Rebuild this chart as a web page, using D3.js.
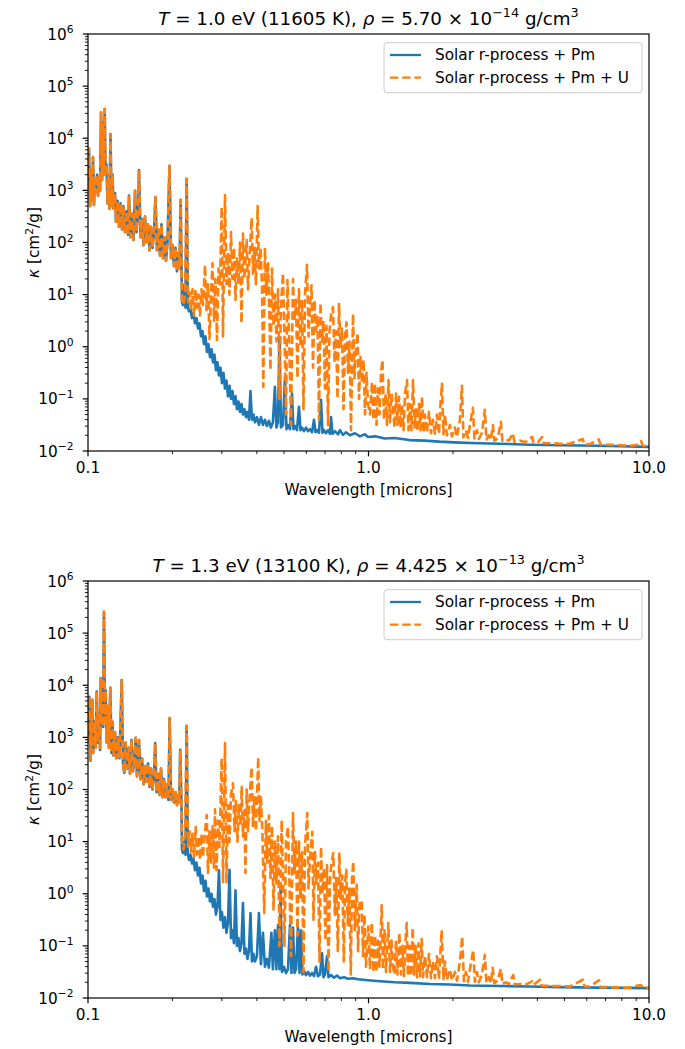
<!DOCTYPE html>
<html><head><meta charset="utf-8">
<script src="https://cdn.jsdelivr.net/npm/d3@7"></script>
<style>body{margin:0;background:#fff}text{font-family:"DejaVu Sans",sans-serif;fill:#000}</style>
</head><body><svg id="c" width="685" height="1049"></svg>
<script>
// ---------------- data ----------------
const seriesNames = ["Solar r-process + Pm", "Solar r-process + Pm + U"];
const seriesColors = ["#1f77b4", "#ff7f0e"];
const xTickValues = [0.1, 1, 10];
const xTickLabels = ["0.1", "1.0", "10.0"];
const yTickExponents = [-2, -1, 0, 1, 2, 3, 4, 5, 6];
const xLabel = "Wavelength [microns]";
const title1 = [["T","i"],[" = 1.0 eV (11605 K), ",""],["ρ","i"],[" = 5.70 × 10",""],["−14","s"],[" g/cm",""],["3","s"]];
const title2 = [["T","i"],[" = 1.3 eV (13100 K), ",""],["ρ","i"],[" = 4.425 × 10",""],["−13","s"],[" g/cm",""],["3","s"]];

// Panel 1 (T = 1.0 eV): wavelength [micron], kappa [cm^2/g]
const p1Shared = [[0.1000,1000],[0.1008,6310],[0.1017,501],[0.1025,2510],[0.1033,631],[0.1042,4370],[0.1050,525],[0.1059,1580],[0.1068,891],[0.1077,2000],[0.1086,794],[0.1095,1780],[0.1104,1000],[0.1113,31600],[0.1122,1580],[0.1131,20000],[0.1140,2000],[0.1147,36300],[0.1154,2510],[0.1164,3160],[0.1174,562],[0.1183,2000],[0.1193,447],[0.1203,12000],[0.1213,501],[0.1223,2000],[0.1233,447],[0.1248,891],[0.1258,251],[0.1274,631],[0.1290,200],[0.1306,562],[0.1322,178],[0.1338,501],[0.1355,158],[0.1372,398],[0.1389,141],[0.1400,794],[0.1417,126],[0.1435,355],[0.1453,112],[0.1471,977],[0.1489,158],[0.1508,398],[0.1520,2450],[0.1539,126],[0.1558,282],[0.1577,89],[0.1597,316],[0.1616,100],[0.1636,224],[0.1657,71],[0.1677,200],[0.1698,79],[0.1719,158],[0.1740,741],[0.1762,71],[0.1784,178],[0.1806,56],[0.1828,224],[0.1851,50],[0.1874,126],[0.1897,45],[0.1920,100],[0.1952,2950],[0.1977,50],[0.2001,89],[0.2026,35],[0.2051,79],[0.2076,28],[0.2102,63],[0.2119,32],[0.2140,661],[0.2154,32]];
const p1PmTail = [[0.2163,7.08],[0.2181,6.31],[0.2208,15.8],[0.2226,5.62],[0.2248,1660],[0.2269,5.62],[0.2291,4.79],[0.2319,5.25],[0.2348,3.55],[0.2377,4.47],[0.2406,2.82],[0.2436,3.55],[0.2467,2.24],[0.2497,2.82],[0.2528,1.58],[0.2559,2.0],[0.2591,1.12],[0.2623,1.58],[0.2655,0.794],[0.2688,1.12],[0.2722,0.631],[0.2755,0.891],[0.2790,0.501],[0.2824,0.708],[0.2859,0.355],[0.2894,0.501],[0.2930,0.282],[0.2966,0.398],[0.3003,0.200],[0.3040,0.316],[0.3078,0.158],[0.3116,0.224],[0.3156,0.112],[0.3195,0.178],[0.3234,0.100],[0.3274,0.141],[0.3315,0.0794],[0.3356,0.112],[0.3397,0.0631],[0.3439,0.0891],[0.3482,0.0562],[0.3525,0.0794],[0.3568,0.0501],[0.3612,0.0631],[0.3657,0.0447],[0.3702,0.0562],[0.3748,0.0398],[0.3795,0.141],[0.3841,0.0398],[0.3889,0.0501],[0.3937,0.0355],[0.4002,0.0447],[0.4068,0.0316],[0.4135,0.0447],[0.4204,0.0316],[0.4273,0.0398],[0.4344,0.0302],[0.4416,0.0380],[0.4488,0.0282],[0.4562,0.0355],[0.4638,0.170],[0.4695,0.0282],[0.4757,0.0355],[0.4816,1.55],[0.4875,0.0282],[0.4956,0.0316],[0.5038,0.263],[0.5100,0.0263],[0.5164,0.0316],[0.5250,0.0263],[0.5336,0.126],[0.5402,0.0263],[0.5469,0.0302],[0.5560,0.0251],[0.5651,0.0708],[0.5722,0.0251],[0.5793,0.0282],[0.5889,0.0240],[0.5986,0.0282],[0.6086,0.0240],[0.6187,0.0263],[0.6289,0.0229],[0.6393,0.0398],[0.6472,0.0229],[0.6552,0.0251],[0.6661,0.0224],[0.6771,0.0955],[0.6854,0.0224],[0.6939,0.0251],[0.7054,0.0219],[0.7172,0.0251],[0.7290,0.0214],[0.7351,0.0447],[0.7442,0.0214],[0.7596,0.0240],[0.7785,0.0209],[0.7914,0.0251],[0.8111,0.0204],[0.8314,0.0229],[0.8591,0.0200],[0.8948,0.0219],[0.9326,0.0191],[0.9714,0.0209],[0.9959,0.0186],[1.055,0.0191],[1.143,0.0174],[1.239,0.0178],[1.399,0.0162],[1.586,0.0158],[1.792,0.0151],[2.112,0.0145],[2.490,0.0141],[2.937,0.0138],[3.768,0.0132],[4.814,0.0129],[6.66,0.0126],[10.0,0.0120]];
const p1PmUTail = [[0.2163,7.94],[0.2190,6.31],[0.2217,10],[0.2248,1660],[0.2273,7.08],[0.2301,11.2],[0.2329,5.01],[0.2358,12.6],[0.2387,3.98],[0.2416,12.6],[0.2446,5.62],[0.2477,10],[0.2508,3.98],[0.2539,12.6],[0.2570,6.31],[0.2613,37.2],[0.2645,5.01],[0.2678,15.8],[0.2711,1.41],[0.2744,10],[0.2779,39.8],[0.2813,3.16],[0.2848,20],[0.2883,1.35],[0.2919,31.6],[0.2955,15.8],[0.2996,479],[0.3029,1.58],[0.3054,39.8],[0.3079,813],[0.3117,15.8],[0.3156,63],[0.3195,10],[0.3234,158],[0.3274,20],[0.3315,79],[0.3356,7.94],[0.3397,50],[0.3439,15.8],[0.3482,100],[0.3525,2.82],[0.3568,148],[0.3612,20],[0.3678,112],[0.3719,12.6],[0.3765,50],[0.3832,295],[0.3873,25.1],[0.3921,79],[0.3969,15.8],[0.4025,501],[0.4070,31.6],[0.4121,79],[0.4171,15.8],[0.4216,0.170],[0.4273,79],[0.4326,10],[0.4383,39.8],[0.4437,3.16],[0.4473,0.355],[0.4529,31.6],[0.4585,2.51],[0.4642,10],[0.4699,1.26],[0.4757,12.6],[0.4816,0.1],[0.4875,6.31],[0.4956,25.7],[0.5017,1.58],[0.5080,0.0501],[0.5142,19.1],[0.5206,2.0],[0.5293,0.0316],[0.5380,20],[0.5447,3.16],[0.5514,7.94],[0.5582,0.251],[0.5651,12.6],[0.5722,1.0],[0.5793,7.94],[0.5864,0.0631],[0.5937,10],[0.6036,37.2],[0.6111,1.58],[0.6187,6.31],[0.6263,15.1],[0.6341,0.398],[0.6419,7.94],[0.6499,2.0],[0.6579,3.98],[0.6661,0.0398],[0.6743,6.92],[0.6826,1.26],[0.6911,3.16],[0.6996,0.158],[0.7083,2.51],[0.7172,0.0316],[0.7260,2.0],[0.7351,3.98],[0.7472,5.75],[0.7565,0.501],[0.7658,2.0],[0.7753,0.1],[0.7850,6.61],[0.7947,1.0],[0.8045,2.24],[0.8145,0.0631],[0.8246,1.58],[0.8348,2.95],[0.8452,0.316],[0.8556,1.26],[0.8662,0.0251],[0.8806,4.27],[0.8915,0.251],[0.9026,1.0],[0.9138,1.82],[0.9251,0.1],[0.9365,0.631],[0.9481,0.2],[0.9599,0.562],[0.9718,0.0501],[0.9838,0.316],[0.9959,0.0794],[1.0124,0.0501],[1.0292,0.209],[1.0419,0.0398],[1.0548,0.2],[1.0679,0.0316],[1.0811,0.158],[1.0945,0.0501],[1.1081,0.316],[1.1218,0.562],[1.1357,0.0398],[1.1498,0.126],[1.1640,0.0316],[1.1785,0.229],[1.1931,0.0355],[1.2079,0.126],[1.2228,0.0631],[1.2380,0.0282],[1.2533,0.126],[1.2689,0.0316],[1.2846,0.110],[1.3005,0.0282],[1.3166,0.0794],[1.3329,0.0251],[1.3494,0.126],[1.3717,0.229],[1.3887,0.0251],[1.4059,0.0794],[1.4233,0.0251],[1.4409,0.229],[1.4588,0.0282],[1.4768,0.0631],[1.4951,0.0240],[1.5137,0.0794],[1.5324,0.0251],[1.5514,0.110],[1.5706,0.0224],[1.5901,0.0501],[1.6163,0.0224],[1.6430,0.0562],[1.6701,0.0219],[1.6977,0.0398],[1.7257,0.0214],[1.7542,0.0501],[1.7832,0.0209],[1.8053,0.0794],[1.8276,0.195],[1.8503,0.0209],[1.8732,0.0501],[1.9041,0.0200],[1.9515,0.0316],[1.9837,0.0191],[2.0331,0.0282],[2.0667,0.0186],[2.1181,0.0398],[2.1531,0.178],[2.1798,0.0182],[2.2250,0.0251],[2.2617,0.0178],[2.2991,0.0316],[2.3563,0.0676],[2.3855,0.0174],[2.4350,0.0251],[2.4752,0.0170],[2.5369,0.0224],[2.6000,0.0617],[2.6322,0.0166],[2.6868,0.0200],[2.7312,0.0162],[2.7763,0.0316],[2.8107,0.0158],[2.8923,0.0178],[2.9643,0.0363],[3.0010,0.0158],[3.0882,0.0166],[3.1651,0.0158],[3.2710,0.0219],[3.3115,0.0151],[3.4767,0.0158],[3.6197,0.0148],[3.8295,0.0186],[3.8770,0.0145],[4.0215,0.0148],[4.1557,0.0186],[4.2072,0.0141],[4.4550,0.0141],[4.8253,0.0138],[5.2234,0.0138],[5.8030,0.0170],[5.8750,0.0135],[6.1441,0.0135],[6.63,0.0166],[6.72,0.0132],[7.26,0.0132],[7.88,0.0129],[8.56,0.0126],[9.13,0.0132],[9.36,0.0155],[9.52,0.0126],[10.0,0.0123]];

// Panel 2 (T = 1.3 eV)
const p2Shared = [[0.1000,794],[0.1011,6030],[0.1021,355],[0.1029,1580],[0.1036,5250],[0.1044,501],[0.1055,2000],[0.1064,631],[0.1074,7590],[0.1086,794],[0.1095,2510],[0.1104,575],[0.1110,13800],[0.1117,2000],[0.1124,7940],[0.1132,1580],[0.1140,257000],[0.1150,2000],[0.1156,8130],[0.1166,794],[0.1178,3980],[0.1188,631],[0.1201,8910],[0.1213,501],[0.1223,2000],[0.1233,447],[0.1248,1260],[0.1264,398],[0.1279,1000],[0.1295,398],[0.1319,12600],[0.1333,316],[0.1347,209],[0.1360,794],[0.1377,251],[0.1394,631],[0.1412,200],[0.1429,891],[0.1447,224],[0.1465,398],[0.1480,977],[0.1495,178],[0.1510,316],[0.1520,891],[0.1539,158],[0.1558,398],[0.1577,126],[0.1597,282],[0.1616,141],[0.1636,316],[0.1657,112],[0.1677,251],[0.1698,100],[0.1719,200],[0.1736,776],[0.1755,89],[0.1776,200],[0.1799,79],[0.1821,251],[0.1843,71],[0.1866,158],[0.1889,71],[0.1913,126],[0.1936,63],[0.1955,2340],[0.1977,63],[0.2001,100],[0.2026,56],[0.2051,89],[0.2076,50],[0.2102,79],[0.2116,56],[0.2132,575],[0.2154,50]];
const p2PmTail = [[0.2163,7.08],[0.2181,6.03],[0.2208,10],[0.2226,5.62],[0.2248,1660],[0.2269,6.03],[0.2291,4.47],[0.2319,5.62],[0.2348,3.80],[0.2377,4.79],[0.2406,2.82],[0.2436,3.98],[0.2467,2.24],[0.2497,3.16],[0.2528,1.58],[0.2559,2.24],[0.2591,1.12],[0.2623,1.78],[0.2655,0.891],[0.2688,1.26],[0.2722,0.708],[0.2755,1.0],[0.2790,0.562],[0.2824,0.794],[0.2859,0.398],[0.2894,0.562],[0.2930,2.82],[0.2966,0.316],[0.3003,0.447],[0.3040,0.224],[0.3078,0.355],[0.3116,0.178],[0.3156,0.282],[0.3195,2.88],[0.3234,0.141],[0.3274,0.2],[0.3315,0.112],[0.3356,1.17],[0.3397,0.1],[0.3439,0.141],[0.3482,0.0794],[0.3525,0.112],[0.3568,0.661],[0.3612,0.0708],[0.3657,0.0891],[0.3702,0.0562],[0.3748,0.0794],[0.3795,0.427],[0.3841,0.0501],[0.3889,0.0708],[0.3937,0.0501],[0.4002,0.0631],[0.4068,0.427],[0.4135,0.0447],[0.4204,0.178],[0.4273,0.0398],[0.4344,0.0562],[0.4416,0.0380],[0.4507,0.178],[0.4562,0.0355],[0.4638,0.2],[0.4695,0.0355],[0.4757,0.251],[0.4816,0.0355],[0.4855,1.35],[0.4916,0.0316],[0.4997,0.0398],[0.5080,0.0302],[0.5164,0.0355],[0.5250,0.251],[0.5314,0.0302],[0.5380,0.224],[0.5447,0.0302],[0.5514,0.0355],[0.5605,0.224],[0.5675,0.0302],[0.5746,0.2],[0.5817,0.0282],[0.5889,0.0331],[0.5986,0.0275],[0.6086,0.0316],[0.6187,0.0269],[0.6289,0.0302],[0.6393,0.0263],[0.6499,0.0398],[0.6607,0.0263],[0.6718,0.0282],[0.6826,0.0724],[0.6911,0.0251],[0.6996,0.0282],[0.7113,0.0631],[0.7201,0.0251],[0.7351,0.0275],[0.7534,0.0245],[0.7722,0.0269],[0.7914,0.0240],[0.8178,0.0251],[0.8452,0.0234],[0.8806,0.0240],[0.9176,0.0229],[0.9559,0.0224],[0.9959,0.0219],[1.099,0.0209],[1.243,0.0200],[1.406,0.0195],[1.657,0.0186],[1.952,0.0182],[2.300,0.0174],[2.944,0.0170],[3.765,0.0166],[4.817,0.0162],[6.689,0.0158],[10.0,0.0155]];
const p2PmUTail = [[0.2163,10],[0.2190,7.08],[0.2217,12.6],[0.2248,1660],[0.2273,7.94],[0.2301,15.8],[0.2329,6.31],[0.2358,14.1],[0.2387,5.01],[0.2420,19.1],[0.2446,5.62],[0.2477,12.6],[0.2508,4.47],[0.2539,14.1],[0.2570,5.01],[0.2602,12.6],[0.2651,32.4],[0.2678,2.51],[0.2711,15.8],[0.2744,3.98],[0.2779,20],[0.2813,3.16],[0.2836,41.7],[0.2871,2.82],[0.2907,25.1],[0.2942,7.94],[0.2996,398],[0.3029,1.58],[0.3054,31.6],[0.3079,776],[0.3117,1.58],[0.3156,50],[0.3195,10],[0.3234,79],[0.3288,132],[0.3329,15.8],[0.3370,63],[0.3411,10],[0.3453,50],[0.3496,20],[0.3531,112],[0.3568,12.6],[0.3612,39.8],[0.3642,2.51],[0.3678,100],[0.3719,15.8],[0.3765,63],[0.3832,269],[0.3873,20],[0.3921,71],[0.3969,15.8],[0.4045,417],[0.4085,25.1],[0.4135,71],[0.4186,14.1],[0.4249,0.427],[0.4308,25.1],[0.4362,3.98],[0.4416,31.6],[0.4472,2.0],[0.4529,20],[0.4585,0.501],[0.4642,10],[0.4699,1.58],[0.4757,12.6],[0.4816,0.1],[0.4903,25.7],[0.4956,2.0],[0.5017,0.1],[0.5080,10],[0.5164,19.1],[0.5228,1.58],[0.5293,0.0631],[0.5380,35.5],[0.5447,2.51],[0.5514,10],[0.5582,0.158],[0.5651,10],[0.5722,0.794],[0.5793,6.31],[0.5864,0.0316],[0.5937,7.94],[0.6050,35.5],[0.6111,1.26],[0.6187,5.01],[0.6305,15.5],[0.6367,0.316],[0.6446,6.31],[0.6526,1.58],[0.6607,3.98],[0.6688,0.0501],[0.6771,7.94],[0.6854,1.0],[0.6939,3.16],[0.7025,0.126],[0.7113,3.55],[0.7201,0.0316],[0.7290,2.0],[0.7381,3.98],[0.7491,6.03],[0.7584,0.398],[0.7677,2.0],[0.7773,0.0794],[0.7869,6.17],[0.7967,0.794],[0.8065,2.24],[0.8165,0.0501],[0.8246,1.58],[0.8334,2.88],[0.8438,0.251],[0.8542,1.26],[0.8648,0.0282],[0.8734,2.0],[0.8828,4.17],[0.8937,0.2],[0.9078,1.48],[0.9175,0.0794],[0.9289,0.631],[0.9457,0.759],[0.9559,0.0631],[0.9678,0.398],[0.9798,0.0398],[0.9984,0.234],[1.0124,0.0355],[1.0266,0.282],[1.0419,0.0316],[1.0548,0.158],[1.0679,0.0316],[1.0811,0.126],[1.0945,0.0398],[1.1145,0.603],[1.1264,0.0355],[1.1403,0.2],[1.1545,0.0316],[1.1765,0.275],[1.1931,0.0316],[1.2079,0.126],[1.2228,0.0398],[1.2380,0.0282],[1.2533,0.126],[1.2689,0.0282],[1.2878,0.178],[1.3059,0.0282],[1.3221,0.1],[1.3384,0.0263],[1.3550,0.126],[1.3683,0.275],[1.3830,0.0263],[1.4002,0.1],[1.4175,0.0263],[1.4375,0.224],[1.4529,0.0282],[1.4709,0.1],[1.4891,0.0251],[1.5076,0.112],[1.5261,0.0263],[1.5474,0.135],[1.5642,0.0251],[1.5901,0.0631],[1.6163,0.0251],[1.6430,0.0708],[1.6701,0.0240],[1.6977,0.0501],[1.7257,0.0240],[1.7542,0.0631],[1.7832,0.0234],[1.8231,0.2],[1.8503,0.0229],[1.8732,0.0501],[1.9041,0.0224],[1.9515,0.0355],[1.9837,0.0219],[2.0331,0.0316],[2.0667,0.0214],[2.1181,0.0501],[2.1583,0.151],[2.1889,0.0209],[2.2250,0.0316],[2.2617,0.0204],[2.2991,0.0355],[2.3621,0.0832],[2.3953,0.0204],[2.4350,0.0316],[2.4752,0.0200],[2.5369,0.0282],[2.6000,0.0676],[2.6322,0.0195],[2.6868,0.0251],[2.7312,0.0191],[2.7695,0.0380],[2.8107,0.0191],[2.8923,0.0224],[2.9643,0.0363],[3.0010,0.0186],[3.0882,0.0200],[3.1651,0.0186],[3.2791,0.0275],[3.3250,0.0182],[3.468,0.0186],[3.6197,0.0178],[3.8295,0.0209],[3.8770,0.0178],[4.0888,0.0224],[4.1390,0.0174],[4.437,0.0170],[4.817,0.0170],[5.229,0.0166],[5.817,0.0224],[5.90,0.0166],[6.16,0.0166],[6.633,0.0219],[6.715,0.0162],[7.26,0.0162],[7.88,0.0158],[8.56,0.0158],[9.13,0.0174],[9.34,0.0178],[9.52,0.0162],[10.0,0.0155]];

// ---------------- drawing ----------------
const svg = d3.select("#c");
const FS = 15.3, FS_SUP = 10.7, TFS = 18.3;
const LW = 2.6, DASH = "8.5,3.7";
const left = 88, right = 649;
const panels = [
  {top: 34, bottom: 451, title: title1, data: [p1Shared.concat(p1PmTail), p1Shared.concat(p1PmUTail)]},
  {top: 581, bottom: 998, title: title2, data: [p2Shared.concat(p2PmTail), p2Shared.concat(p2PmUTail)]}
];

panels.forEach((p, pi) => {
  const x = d3.scaleLog().domain([0.1, 10]).range([left, right]);
  const y = d3.scaleLog().domain([1e-2, 1e6]).range([p.bottom, p.top]);
  const g = svg.append("g");

  const clipId = "clip" + pi;
  svg.append("clipPath").attr("id", clipId).append("rect")
    .attr("x", left).attr("y", p.top).attr("width", right - left).attr("height", p.bottom - p.top);

  const line = d3.line().x(d => x(d[0])).y(d => y(d[1]));
  const lg = g.append("g").attr("clip-path", `url(#${clipId})`);
  lg.append("path").datum(p.data[0]).attr("d", line).attr("fill", "none")
    .attr("stroke", seriesColors[0]).attr("stroke-width", LW).attr("stroke-linejoin", "round");
  lg.append("path").datum(p.data[1]).attr("d", line).attr("fill", "none")
    .attr("stroke", seriesColors[1]).attr("stroke-width", LW).attr("stroke-linejoin", "round")
    .attr("stroke-dasharray", DASH);

  // minor ticks
  const xMinor = [];
  [0.1, 1].forEach(b => { for (let k = 2; k <= 9; k++) xMinor.push(b * k); });
  xMinor.forEach(v => g.append("line").attr("x1", x(v)).attr("x2", x(v))
    .attr("y1", p.bottom).attr("y2", p.bottom + 3.1).attr("stroke", "#000").attr("stroke-width", 0.9));
  const yMinor = [];
  yTickExponents.slice(0, -1).forEach(e => { for (let k = 2; k <= 9; k++) yMinor.push(k * Math.pow(10, e)); });
  yMinor.forEach(v => g.append("line").attr("y1", y(v)).attr("y2", y(v))
    .attr("x1", left).attr("x2", left - 3.1).attr("stroke", "#000").attr("stroke-width", 0.9));

  // major ticks x
  xTickValues.forEach((v, i) => {
    g.append("line").attr("x1", x(v)).attr("x2", x(v)).attr("y1", p.bottom).attr("y2", p.bottom + 5.3)
      .attr("stroke", "#000").attr("stroke-width", 1.2);
    g.append("text").attr("x", x(v)).attr("y", p.bottom + 22).attr("text-anchor", "middle")
      .attr("font-size", FS).text(xTickLabels[i]);
  });
  // major ticks y
  yTickExponents.forEach(e => {
    const yy = y(Math.pow(10, e));
    g.append("line").attr("y1", yy).attr("y2", yy).attr("x1", left).attr("x2", left - 5.3)
      .attr("stroke", "#000").attr("stroke-width", 1.2);
    const t = g.append("text").attr("x", 73.5).attr("y", yy + 5.5).attr("text-anchor", "end").attr("font-size", FS);
    t.append("tspan").text("10");
    t.append("tspan").attr("dy", -6.5).attr("font-size", FS_SUP).text(e < 0 ? "−" + (-e) : String(e));
  });

  // spines
  g.append("rect").attr("x", left).attr("y", p.top).attr("width", right - left).attr("height", p.bottom - p.top)
    .attr("fill", "none").attr("stroke", "#000").attr("stroke-width", 1.2);

  // axis labels
  g.append("text").attr("x", (left + right) / 2).attr("y", p.bottom + 44).attr("text-anchor", "middle")
    .attr("font-size", FS).text(xLabel);
  const yl = g.append("text").attr("transform", `translate(39,${(p.top + p.bottom) / 2}) rotate(-90)`)
    .attr("text-anchor", "middle").attr("font-size", FS);
  yl.append("tspan").attr("font-style", "italic").text("κ");
  yl.append("tspan").text(" [cm");
  yl.append("tspan").attr("dy", -6).attr("font-size", FS_SUP).text("2");
  yl.append("tspan").attr("dy", 6).text("/g]");

  // title
  const tt = g.append("text").attr("x", (left + right) / 2).attr("y", p.top - 9).attr("text-anchor", "middle")
    .attr("font-size", TFS);
  let raised = false;
  p.title.forEach(([s, k]) => {
    const ts = tt.append("tspan").text(s);
    if (k === "i") ts.attr("font-style", "italic");
    if (k === "s") { ts.attr("dy", -8).attr("font-size", 12.8); raised = true; }
    else if (raised) { ts.attr("dy", 8); raised = false; }
  });

  // legend
  const lx = 384, ly = p.top + 8.7, lw = 258, lh = 50;
  g.append("rect").attr("x", lx).attr("y", ly).attr("width", lw).attr("height", lh).attr("rx", 3)
    .attr("fill", "#fff").attr("fill-opacity", 0.8).attr("stroke", "#cccccc").attr("stroke-width", 1);
  seriesNames.forEach((name, i) => {
    const yy = p.top + 21 + i * 22.7;
    const ln = g.append("line").attr("x1", 390).attr("x2", 421).attr("y1", yy).attr("y2", yy)
      .attr("stroke", seriesColors[i]).attr("stroke-width", 2.3);
    if (i === 1) ln.attr("stroke-dasharray", "8.5,3.7");
    g.append("text").attr("x", 435).attr("y", yy + 5.3).attr("font-size", FS).text(name);
  });
});
</script></body></html>
